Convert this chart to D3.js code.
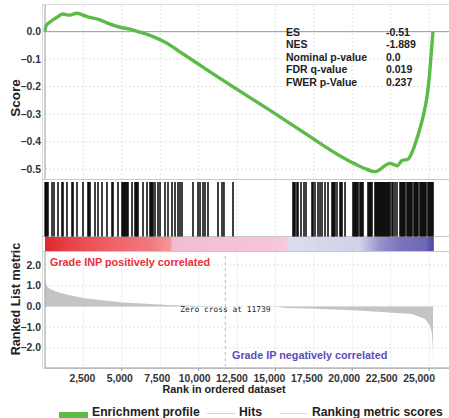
<!DOCTYPE html>
<html>
<head>
<meta charset="utf-8">
<script src="https://cdn.jsdelivr.net/npm/d3@7"></script>
<style>
  body { margin: 0; background: #fff; }
  text { font-family: "Liberation Sans", Arial, sans-serif; }
</style>
</head>
<body>
<div id="chart"></div>
<script>
// running enrichment score
const esRanks = [0, 50, 325, 716, 1172, 1600, 2083, 2400, 2734, 3580, 4036, 4883, 5534, 6185, 7031, 7943, 8659, 10091, 11719, 14974, 18229, 18555, 19857, 20703, 21484, 22461, 22917, 23242, 23633, 23958, 24284, 24609, 24870, 25020, 25176, 25260];
const esValues = [0.0, 0.02, 0.035, 0.05, 0.064, 0.06, 0.067, 0.062, 0.055, 0.043, 0.032, 0.016, 0.009, -0.002, -0.018, -0.042, -0.069, -0.122, -0.182, -0.298, -0.418, -0.43, -0.472, -0.495, -0.509, -0.479, -0.488, -0.469, -0.464, -0.43, -0.376, -0.31, -0.236, -0.164, -0.055, 0.0];

// gene set members (rank positions)
const hitRanks = [
  10, 65, 130, 195, 456, 586, 846, 1107, 1172, 1432, 1758, 1823, 2083, 2474, 2799, 2864, 2930,
  3255, 3450, 3711, 4036, 4362, 4427, 4752, 5013, 5078, 5143, 5208, 5273, 5338, 5403, 5664,
  5859, 5924, 5989, 6054, 6380, 6640, 6836, 6901, 6966, 7031, 7161, 7356, 7487, 7812, 8007,
  8268, 8463, 8658, 8789, 8919, 9635, 9960, 10091, 10286, 10416, 10611, 11262, 11523, 11650, 12239,
  16145, 16210, 16275, 16405, 16470, 16666, 16861, 16991, 17382, 17447, 17577, 17772, 17903,
  18033, 18228, 18423, 18684, 18749, 18814, 18879, 19009, 19205, 19270, 19335, 19530,
  20051, 20116, 20181, 20246, 20311, 20376, 20507, 20572, 20637, 20702,
  21027, 21092, 21158, 21223, 21288,
  21483, 21548, 21613, 21678, 21743, 21809, 21874, 21939, 22004, 22069, 22134, 22199, 22264, 22329, 22394, 22460,
  22590, 22655, 22785, 22915, 23111, 23176, 23241, 23306, 23371, 23436,
  23566, 23631, 23696, 23762, 23827, 23892, 24022, 24087, 24152, 24217, 24282,
  24413, 24478, 24543, 24608, 24673, 24738, 24803, 24933, 24998, 25064, 25129, 25194, 25259
];

// ranked list metric
const metricRanks = [0, 20, 110, 325, 850, 1410, 2470, 3580, 5080, 6840, 7940, 10100, 11739, 13000, 15000, 15750, 17500, 20380, 23890, 24740, 25060, 25190, 25240, 25262];
const metricValues = [1.5, 1.2, 1.0, 0.84, 0.68, 0.57, 0.41, 0.31, 0.19, 0.12, 0.07, 0.02, 0.0, -0.01, -0.02, -0.08, -0.12, -0.2, -0.37, -0.61, -0.93, -1.3, -2.0, -2.7];

// colour bar along the ranked list
const colorStopRanks = [0, 1628, 4232, 6836, 8138, 8268, 15700, 15820, 20510, 21810, 23110, 24740, 25270];
const colorStopColors = ["#e0282e", "#e8444a", "#ee6266", "#f07a80", "#f4979a", "#f3bcd4", "#f6c6dc", "#dcdcef", "#ccccE6", "#8a86c8", "#6a64b4", "#5c56ac", "#2e2e96"];

const xTicks = [2500, 5000, 7500, 10000, 12500, 15000, 17500, 20000, 22500, 25000];
const esTicks = [0.0, -0.1, -0.2, -0.3, -0.4, -0.5];
const metricTicks = [2.0, 1.0, 0.0, -1.0, -2.0];

const statLabels = ["ES", "NES", "Nominal p-value", "FDR q-value", "FWER p-Value"];
const statValues = ["-0.51", "-1.889", "0.0", "0.019", "0.237"];

const zeroCross = 11739;
const listEnd = 25270;

const width = 449, height = 418;
const svg = d3.select("#chart").append("svg")
  .attr("width", width)
  .attr("height", height);

const x = d3.scaleLinear().domain([0, 26300]).range([45, 449]);
const yES = d3.scaleLinear().domain([-0.536, 0.097]).range([179, 5]);
const yM = d3.scaleLinear().domain([-2.98, 2.63]).range([368, 252]);

const hitsTop = 180, hitsBottom = 236.5;
const barTop = 236.5, barBottom = 251.5;

const green = "#5cba47";
const tickFont = "10.4px";

// outer frame
svg.append("rect")
  .attr("x", 42.5).attr("y", 4.5)
  .attr("width", 420).attr("height", 364)
  .attr("fill", "none")
  .attr("stroke", "#dcdcdc");

// grid lines
const grid = svg.append("g").attr("stroke", "#e2e2e2").attr("stroke-dasharray", "2,2");
xTicks.forEach(t => {
  grid.append("line").attr("x1", x(t)).attr("x2", x(t)).attr("y1", 5).attr("y2", hitsBottom);
  grid.append("line").attr("x1", x(t)).attr("x2", x(t)).attr("y1", barBottom).attr("y2", 368);
});
esTicks.forEach(t => {
  grid.append("line").attr("x1", 45).attr("x2", 449).attr("y1", yES(t)).attr("y2", yES(t));
});
metricTicks.forEach(t => {
  grid.append("line").attr("x1", 45).attr("x2", 449).attr("y1", yM(t)).attr("y2", yM(t));
});

// zero line of the score panel
svg.append("line")
  .attr("x1", 45).attr("x2", 449)
  .attr("y1", yES(0)).attr("y2", yES(0))
  .attr("stroke", "#9a9a9a");

// panel separators
[179.5, barTop, barBottom].forEach(y => {
  svg.append("line")
    .attr("x1", 42).attr("x2", 449)
    .attr("y1", y).attr("y2", y)
    .attr("stroke", "#c8c8c8");
});

// hits
svg.append("g")
  .selectAll("line")
  .data(hitRanks)
  .join("line")
  .attr("x1", d => x(d)).attr("x2", d => x(d))
  .attr("y1", hitsTop + 2).attr("y2", hitsBottom)
  .attr("stroke", "#000")
  .attr("stroke-width", 1.5);

// colour bar
const barColor = d3.scaleLinear()
  .domain(colorStopRanks)
  .range(colorStopColors)
  .interpolate(d3.interpolateRgb)
  .clamp(true);
const step = 65;
svg.append("g")
  .selectAll("rect")
  .data(d3.range(0, listEnd, step))
  .join("rect")
  .attr("x", d => x(d))
  .attr("y", barTop + 0.5)
  .attr("width", x(step) - x(0) + 0.3)
  .attr("height", barBottom - barTop - 1)
  .attr("fill", d => barColor(d));

// ranked list metric area
const area = d3.area()
  .x((d, i) => x(metricRanks[i]))
  .y0(yM(0))
  .y1(d => yM(d));
svg.append("path")
  .datum(metricValues)
  .attr("d", area)
  .attr("fill", "#c4c4c4");

// zero cross marker
svg.append("line")
  .attr("x1", x(zeroCross)).attr("x2", x(zeroCross))
  .attr("y1", 256).attr("y2", 366)
  .attr("stroke", "#b8b8b8")
  .attr("stroke-dasharray", "3,3");
svg.append("text")
  .attr("x", x(zeroCross))
  .attr("y", yM(0) + 6)
  .attr("text-anchor", "middle")
  .style("font-family", "'DejaVu Sans Mono', monospace")
  .style("font-size", "7.9px")
  .attr("fill", "#222")
  .text("Zero cross at " + zeroCross);

// enrichment curve
const line = d3.line()
  .x((d, i) => x(esRanks[i]))
  .y(d => yES(d))
  .curve(d3.curveMonotoneX);
svg.append("path")
  .datum(esValues)
  .attr("d", line)
  .attr("fill", "none")
  .attr("stroke", green)
  .attr("stroke-width", 3.4)
  .attr("stroke-linejoin", "round");

// axes lines
svg.append("line").attr("x1", 45).attr("x2", 45).attr("y1", 5).attr("y2", 179)
  .attr("stroke", "#9a9a9a");
svg.append("line").attr("x1", 45).attr("x2", 45).attr("y1", barBottom).attr("y2", 368)
  .attr("stroke", "#9a9a9a");
svg.append("line").attr("x1", 45).attr("x2", 449).attr("y1", 368).attr("y2", 368)
  .attr("stroke", "#9a9a9a");

// y tick labels
svg.append("g").selectAll("text")
  .data(esTicks)
  .join("text")
  .attr("x", 41).attr("y", d => yES(d) + 3.6)
  .attr("text-anchor", "end")
  .style("font-size", tickFont).style("font-weight", "bold")
  .attr("fill", "#333")
  .text(d3.format(".1f"));
svg.append("g").selectAll("text")
  .data(metricTicks)
  .join("text")
  .attr("x", 41).attr("y", d => yM(d) + 3.6)
  .attr("text-anchor", "end")
  .style("font-size", tickFont).style("font-weight", "bold")
  .attr("fill", "#333")
  .text(d3.format(".1f"));

// x ticks and labels
svg.append("g").selectAll("line")
  .data(xTicks.filter(d => d % 5000 === 0))
  .join("line")
  .attr("x1", d => x(d)).attr("x2", d => x(d))
  .attr("y1", 368).attr("y2", 371)
  .attr("stroke", "#9a9a9a");
svg.append("g").selectAll("text")
  .data(xTicks)
  .join("text")
  .attr("x", d => x(d) - 10 * (d / 25000))
  .attr("y", 382)
  .attr("text-anchor", "middle")
  .style("font-size", tickFont).style("font-weight", "bold")
  .attr("fill", "#333")
  .text(d3.format(","));

svg.append("text")
  .attr("x", 224).attr("y", 393)
  .attr("text-anchor", "middle")
  .style("font-size", "10.8px").style("font-weight", "bold")
  .attr("fill", "#222")
  .text("Rank in ordered dataset");

// axis titles
svg.append("text")
  .attr("transform", "translate(20,98) rotate(-90)")
  .attr("text-anchor", "middle")
  .style("font-size", "13.5px").style("font-weight", "bold")
  .attr("fill", "#222")
  .text("Score");
svg.append("text")
  .attr("transform", "translate(20,299) rotate(-90)")
  .attr("text-anchor", "middle")
  .style("font-size", "12.6px").style("font-weight", "bold")
  .attr("fill", "#222")
  .text("Ranked List metric");

// phenotype labels
svg.append("text")
  .attr("x", 50).attr("y", 266)
  .style("font-size", "10.8px").style("font-weight", "bold")
  .attr("fill", "#e8303a")
  .text("Grade INP positively correlated");
svg.append("text")
  .attr("x", 232).attr("y", 359)
  .style("font-size", "10.8px").style("font-weight", "bold")
  .attr("fill", "#5b4cbc")
  .text("Grade IP negatively correlated");

// stats box
const stats = svg.append("g");
statLabels.forEach((s, i) => {
  stats.append("text")
    .attr("x", 286).attr("y", 35.5 + i * 12.5)
    .style("font-size", "10.5px").style("font-weight", "bold")
    .attr("fill", "#222")
    .text(s);
  stats.append("text")
    .attr("x", 386).attr("y", 35.5 + i * 12.5)
    .style("font-size", "10.5px").style("font-weight", "bold")
    .attr("fill", "#222")
    .text(statValues[i]);
});

// legend
const legend = svg.append("g");
legend.append("rect")
  .attr("x", 59).attr("y", 412).attr("width", 29).attr("height", 6)
  .attr("fill", green);
legend.append("text")
  .attr("x", 92).attr("y", 416)
  .style("font-size", "12.2px").style("font-weight", "bold")
  .attr("fill", "#222")
  .text("Enrichment profile");
legend.append("line")
  .attr("x1", 207).attr("x2", 235).attr("y1", 413.5).attr("y2", 413.5)
  .attr("stroke", "#bfe3b5");
legend.append("text")
  .attr("x", 239).attr("y", 416)
  .style("font-size", "12.2px").style("font-weight", "bold")
  .attr("fill", "#222")
  .text("Hits");
legend.append("line")
  .attr("x1", 279).attr("x2", 307).attr("y1", 413.5).attr("y2", 413.5)
  .attr("stroke", "#dddddd");
legend.append("text")
  .attr("x", 312).attr("y", 416)
  .style("font-size", "12.2px").style("font-weight", "bold")
  .attr("fill", "#222")
  .text("Ranking metric scores");
</script>
</body>
</html>
